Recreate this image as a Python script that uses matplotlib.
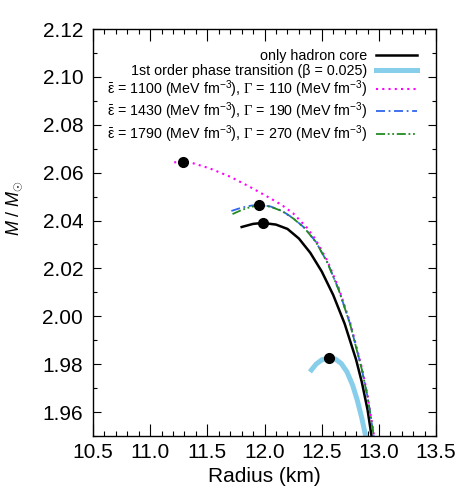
import matplotlib
matplotlib.use('Agg')
from matplotlib import pyplot as plt
from matplotlib.ticker import MultipleLocator, FormatStrFormatter

plt.rcParams['font.family'] = ['Liberation Sans', 'DejaVu Sans']
plt.rcParams['mathtext.fontset'] = 'custom'
plt.rcParams['mathtext.rm'] = 'Liberation Sans'
plt.rcParams['mathtext.it'] = 'Liberation Sans:italic'
plt.rcParams['mathtext.sf'] = 'Liberation Serif'

# only hadron core
hadron_r = [11.80, 11.90, 11.985, 12.10, 12.20, 12.30, 12.40, 12.50, 12.60,
            12.70, 12.80, 12.85, 12.90, 12.935]
hadron_m = [2.0373, 2.0386, 2.0390, 2.0383, 2.0365, 2.0325, 2.0265, 2.0187, 2.0089,
            1.9969, 1.9819, 1.9725, 1.9610, 1.9500]

# 1st order phase transition
pt_r = [12.41, 12.45, 12.50, 12.565, 12.62, 12.67, 12.72, 12.77, 12.81, 12.85, 12.885]
pt_m = [1.9776, 1.9800, 1.9818, 1.9826, 1.9821, 1.9803, 1.9768, 1.9712, 1.9650, 1.9575, 1.9496]

# eps 1100, Gamma 110
p1_r = [11.21, 11.29, 11.35, 11.52, 11.70, 11.87, 12.05, 12.15, 12.25, 12.37, 12.45,
        12.55, 12.65, 12.75, 12.85, 12.90, 12.95, 12.957]
p1_m = [2.0643, 2.0646, 2.0643, 2.0618, 2.0583, 2.0541, 2.0493, 2.0465, 2.0430, 2.0370, 2.0318,
        2.0231, 2.0116, 1.9971, 1.9786, 1.9671, 1.9521, 1.9500]

# eps 1430, Gamma 190
p2_r = [11.71, 11.80, 11.88, 11.955, 12.05, 12.15, 12.25, 12.35, 12.45, 12.55,
        12.65, 12.75, 12.85, 12.90, 12.95, 12.955]
p2_m = [2.0440, 2.0454, 2.0462, 2.0466, 2.0459, 2.0441, 2.0410, 2.0369, 2.0310, 2.0224,
        2.0109, 1.9964, 1.9779, 1.9664, 1.9514, 1.9500]

# eps 1790, Gamma 270
p3_r = [11.72, 11.80, 11.88, 11.955, 12.05, 12.15, 12.25, 12.35, 12.45, 12.55,
        12.65, 12.75, 12.85, 12.90, 12.95, 12.955]
p3_m = [2.0427, 2.0444, 2.0457, 2.0463, 2.0458, 2.0440, 2.0409, 2.0368, 2.0309, 2.0223,
        2.0108, 1.9963, 1.9778, 1.9663, 1.9513, 1.9500]

# maximum mass points
max_r = [11.29, 11.955, 11.985, 12.565]
max_m = [2.0646, 2.0466, 2.0390, 1.9826]

labels = ['only hadron core',
          '1st order phase transition (β = 0.025)',
          r'$\bar{\mathrm{\epsilon}}$ = 1100 (MeV fm$^{-3}$), $\mathsf{\Gamma}$ = 110 (MeV fm$^{-3}$)',
          r'$\bar{\mathrm{\epsilon}}$ = 1430 (MeV fm$^{-3}$), $\mathsf{\Gamma}$ = 190 (MeV fm$^{-3}$)',
          r'$\bar{\mathrm{\epsilon}}$ = 1790 (MeV fm$^{-3}$), $\mathsf{\Gamma}$ = 270 (MeV fm$^{-3}$)']

fig = plt.figure(figsize=(4.67, 4.96), dpi=100)
ax = fig.add_axes([0.199, 0.121, 0.735, 0.8205])

ax.plot(hadron_r, hadron_m, color='black', lw=1.8, label=labels[0], zorder=3)
ax.plot(pt_r, pt_m, color='#87ceeb', lw=3.6, label=labels[1], zorder=2)
ax.plot(p1_r, p1_m, color='#ff00ff', lw=1.5, ls=(0, (1, 2)), label=labels[2], zorder=4)
ax.plot(p2_r, p2_m, color='#3366ee', lw=1.3, ls=(0, (5, 2, 1, 2)), label=labels[3], zorder=4)
ax.plot(p3_r, p3_m, color='#228b22', lw=1.3, ls=(0, (5, 1.5, 1, 1.5, 1, 1.5)), label=labels[4], zorder=4)
ax.plot(max_r, max_m, 'o', color='black', ms=7, zorder=5)

ax.set_xlim(10.5, 13.5)
ax.set_ylim(1.95, 2.12)
ax.xaxis.set_major_locator(MultipleLocator(0.5))
ax.xaxis.set_minor_locator(MultipleLocator(0.1))
ax.yaxis.set_minor_locator(MultipleLocator(0.01))
ax.xaxis.set_major_formatter(FormatStrFormatter('%.1f'))
ax.yaxis.set_major_formatter(FormatStrFormatter('%.2f'))
ax.set_yticks([1.96, 1.98, 2.00, 2.02, 2.04, 2.06, 2.08, 2.10, 2.12])
ax.tick_params(which='both', direction='in', top=True, right=True, labelsize=15, width=0.8)
ax.tick_params(axis='x', which='major', length=8.5, pad=5)
ax.tick_params(axis='x', which='minor', length=3.6)
ax.tick_params(axis='y', which='major', length=5.8, pad=7)
ax.tick_params(axis='y', which='minor', length=3)
for s in ax.spines.values():
    s.set_linewidth(1.0)

ax.set_xlabel('Radius (km)', fontsize=15, labelpad=4)
ax.set_ylabel(r'$M$ / $M_{\odot}$', fontsize=13)
ax.yaxis.set_label_coords(-0.2, 0.56)

ax.legend(loc='upper right', frameon=False, markerfirst=False, fontsize=10.3,
          handlelength=2.9, labelspacing=0.05, handletextpad=0.6,
          borderaxespad=0, bbox_to_anchor=(0.962, 0.965))

fig.savefig('out.png', dpi=100)
